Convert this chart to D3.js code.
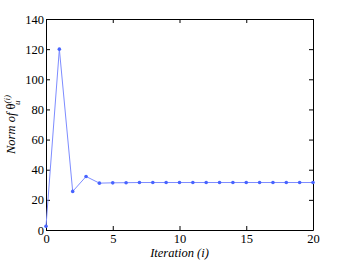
<!DOCTYPE html>
<html>
<head>
<meta charset="utf-8">
<script src="https://cdn.jsdelivr.net/npm/d3@7"></script>
<style>
  body { margin: 0; background: #fff; }
</style>
</head>
<body>
<div id="chart"></div>
<script>
// iteration index and the norm at each one
var iterations = d3.range(0, 21);
var normValues = [2.5, 120, 25.6, 35.5, 31.1, 31.3, 31.4, 31.5, 31.5, 31.5, 31.5,
                  31.5, 31.5, 31.5, 31.5, 31.5, 31.5, 31.5, 31.5, 31.5, 31.5];
var xTicks = [0, 5, 10, 15, 20];
var yTicks = [0, 20, 40, 60, 80, 100, 120, 140];

var serif = "'Liberation Serif', serif";
var width = 346, height = 260;
var margin = { top: 19, right: 33, bottom: 30, left: 46 };
var w = width - margin.left - margin.right;
var h = height - margin.top - margin.bottom;

var svg = d3.select("#chart").append("svg")
    .attr("width", width)
    .attr("height", height);

var g = svg.append("g")
    .attr("transform", "translate(" + margin.left + "," + margin.top + ")");

var x = d3.scaleLinear().domain([0, 20]).range([0, w]);
var y = d3.scaleLinear().domain([0, 140]).range([h, 0]);

// inward ticks on all four sides, like matlab
function styleAxis(sel) {
    sel.attr("font-family", serif).attr("font-size", 12.5);
    sel.select(".domain").attr("stroke", "#000").attr("stroke-width", 1);
    sel.selectAll(".tick line").attr("stroke", "#000");
    sel.selectAll("text").attr("fill", "#000");
}

g.append("g").attr("transform", "translate(0," + h + ")")
    .call(d3.axisBottom(x).tickValues(xTicks).tickSize(-4).tickSizeOuter(0).tickPadding(4))
    .call(styleAxis);
g.append("g")
    .call(d3.axisLeft(y).tickValues(yTicks).tickSize(-4).tickSizeOuter(0).tickPadding(2))
    .call(styleAxis);
g.append("g")
    .call(d3.axisTop(x).tickValues(xTicks).tickSize(-4).tickSizeOuter(0).tickFormat(""))
    .call(styleAxis);
g.append("g").attr("transform", "translate(" + w + ",0)")
    .call(d3.axisRight(y).tickValues(yTicks).tickSize(-4).tickSizeOuter(0).tickFormat(""))
    .call(styleAxis);

var pts = iterations.map(function (d, i) { return [d, normValues[i]]; });

g.append("path")
    .datum(pts)
    .attr("fill", "none")
    .attr("stroke", "#7d8cff")
    .attr("stroke-width", 1)
    .attr("d", d3.line().x(function (d) { return x(d[0]); }).y(function (d) { return y(d[1]); }));

g.selectAll("circle.pt")
    .data(pts)
    .enter().append("circle")
    .attr("class", "pt")
    .attr("cx", function (d) { return x(d[0]); })
    .attr("cy", function (d) { return y(d[1]); })
    .attr("r", 1.8)
    .attr("fill", "#4763ff");

// axis labels
svg.append("text")
    .attr("x", margin.left + w / 2)
    .attr("y", 257)
    .attr("text-anchor", "middle")
    .attr("font-family", serif)
    .attr("font-size", 12.5)
    .attr("font-style", "italic")
    .text("Iteration (i)");

var yl = svg.append("text")
    .attr("transform", "translate(15," + (margin.top + h / 2) + ") rotate(-90)")
    .attr("text-anchor", "middle")
    .attr("font-family", serif)
    .attr("font-size", 12.5)
    .attr("font-style", "italic");
yl.append("tspan").text("Norm of ");
yl.append("tspan").attr("font-style", "normal").text("\u03b8");
yl.append("tspan").attr("dy", -5).attr("font-size", 9).text("(i)");
yl.append("tspan").attr("dx", -10).attr("dy", 10).attr("font-size", 9).text("u");
</script>
</body>
</html>
